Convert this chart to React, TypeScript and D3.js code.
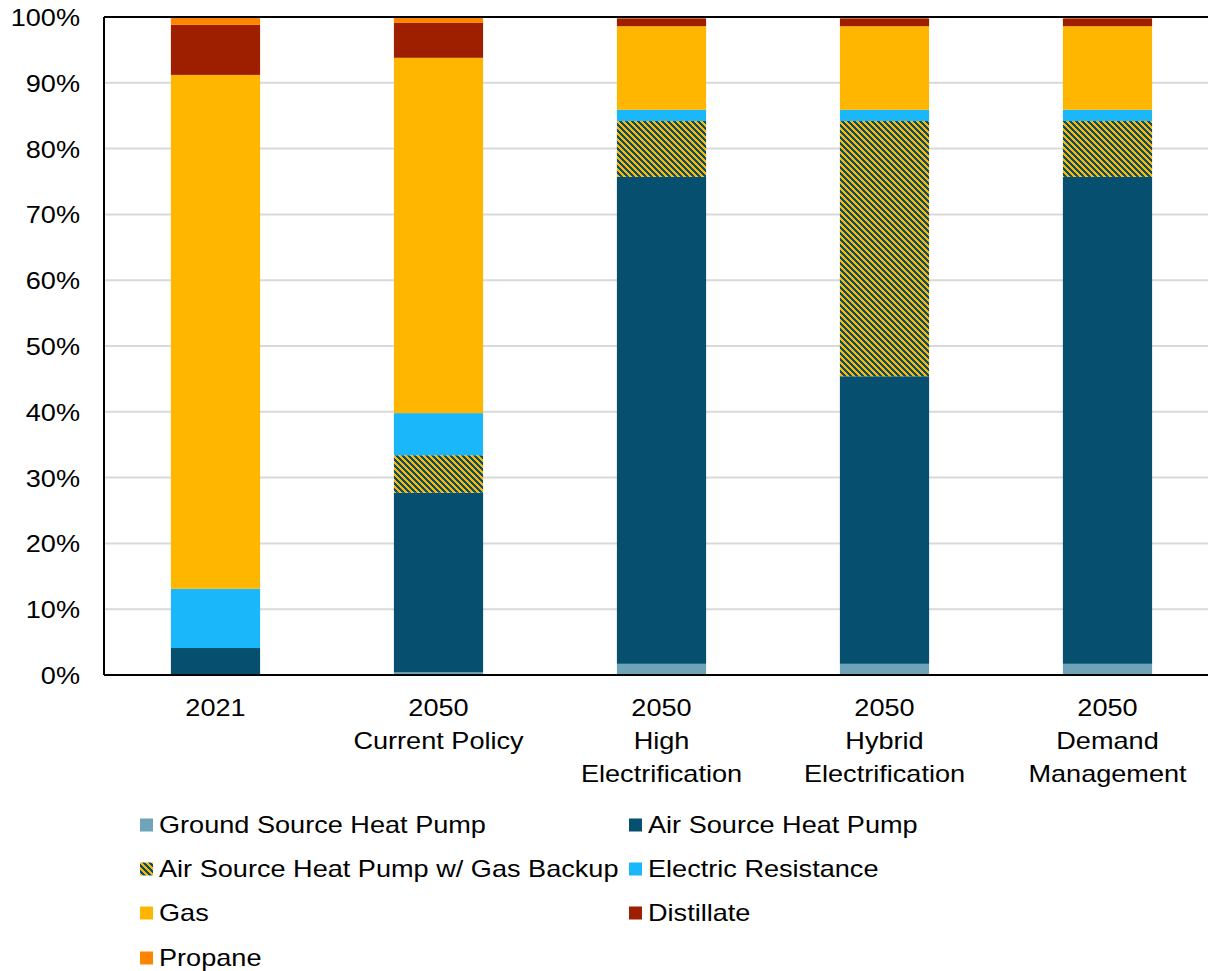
import React from "react";
import * as d3 from "d3";

const categories: string[][] = [
  ["2021"],
  ["2050", "Current Policy"],
  ["2050", "High", "Electrification"],
  ["2050", "Hybrid", "Electrification"],
  ["2050", "Demand", "Management"],
];

const seriesNames = [
  "Ground Source Heat Pump",
  "Air Source Heat Pump",
  "Air Source Heat Pump w/ Gas Backup",
  "Electric Resistance",
  "Gas",
  "Distillate",
  "Propane",
];

// shares in percent, one entry per category
const groundSource = [0.0, 0.4, 1.7, 1.7, 1.7];
const airSource = [4.1, 27.3, 74.0, 43.7, 74.0];
const airSourceGasBackup = [0.0, 5.7, 8.5, 38.8, 8.5];
const electricResistance = [9.0, 6.4, 1.7, 1.7, 1.7];
const gas = [78.1, 54.0, 12.7, 12.7, 12.7];
const distillate = [7.6, 5.3, 1.2, 1.2, 1.2];
const propane = [1.2, 0.9, 0.2, 0.2, 0.2];

const seriesValues = [
  groundSource,
  airSource,
  airSourceGasBackup,
  electricResistance,
  gas,
  distillate,
  propane,
];

const colors = [
  "#6fa3b8",
  "#064f6e",
  "url(#hatch)",
  "#1ab7fb",
  "#ffb600",
  "#9e1f00",
  "#ff8500",
];

const yTicks = [0, 10, 20, 30, 40, 50, 60, 70, 80, 90, 100];

const W = 1208;
const H = 971;
const plot = { left: 104, right: 1219, top: 17, bottom: 675 };
const FONT = "Liberation Sans, Arial, sans-serif";
const SX = 1.13;

// pixel-stepped diagonal hatch tile
const HATCH = 6;
const hatchCells = d3.range(HATCH).flatMap((r) =>
  d3.range(3).map((c) => ({ r, c: (r + c) % HATCH }))
);

function SText({ x, y, anchor, children }: { x: number; y: number; anchor: string; children: React.ReactNode }) {
  return (
    <text
      transform={`translate(${x},${y}) scale(${SX},1)`}
      textAnchor={anchor}
      fontFamily={FONT}
      fontSize={24}
      fill="#000"
    >
      {children}
    </text>
  );
}

export default function App() {
  const x = d3
    .scaleBand<number>()
    .domain(d3.range(categories.length))
    .range([plot.left, plot.right])
    .paddingInner(0.6)
    .paddingOuter(0.3);
  const y = d3.scaleLinear().domain([0, 100]).range([plot.bottom, plot.top]);

  const rows = categories.map((_, i) => {
    const r: Record<string, number> = {};
    seriesNames.forEach((s, k) => (r[s] = seriesValues[k][i]));
    return r;
  });
  const stacked = d3.stack<Record<string, number>>().keys(seriesNames)(rows);

  const legendCols = [140, 629];
  const legendRows = [825, 869, 913, 958];

  return (
    <svg
      width={W}
      height={H}
      style={{ position: "absolute", left: 0, top: 0, background: "#fff" }}
    >
      <defs>
        <pattern id="hatch" width={HATCH} height={HATCH} patternUnits="userSpaceOnUse">
          <rect width={HATCH} height={HATCH} fill="#ffb600" />
          {hatchCells.map(({ r, c }) => (
            <rect key={`${r}-${c}`} x={c} y={r} width={1} height={1} fill="#064f6e" shapeRendering="crispEdges" />
          ))}
        </pattern>
      </defs>

      {yTicks.map((t) => (
        <line
          key={t}
          x1={plot.left}
          x2={plot.right}
          y1={y(t)}
          y2={y(t)}
          stroke="#d9d9d9"
          strokeWidth={2}
        />
      ))}

      {stacked.map((layer, k) =>
        layer.map((d, i) => {
          const h = y(d[0]) - y(d[1]);
          if (h <= 0) return null;
          return (
            <rect
              key={`${k}-${i}`}
              x={x(i)}
              width={x.bandwidth()}
              y={y(d[1])}
              height={h}
              fill={colors[k]}
            />
          );
        })
      )}

      <line x1={plot.left} x2={plot.right} y1={plot.top} y2={plot.top} stroke="#000" strokeWidth={2} />
      <line x1={plot.left} x2={plot.right} y1={plot.bottom} y2={plot.bottom} stroke="#000" strokeWidth={2} />
      <line x1={plot.left} x2={plot.left} y1={plot.top} y2={plot.bottom} stroke="#000" strokeWidth={2} />

      {yTicks.map((t) => (
        <SText key={t} x={80} y={y(t) + 9} anchor="end">
          {`${t}%`}
        </SText>
      ))}

      {categories.map((lines, i) =>
        lines.map((ln, j) => (
          <SText key={`${i}-${j}`} x={x(i)! + x.bandwidth() / 2} y={716 + j * 33} anchor="middle">
            {ln}
          </SText>
        ))
      )}

      {seriesNames.map((s, k) => {
        const cx = legendCols[k % 2];
        const cy = legendRows[Math.floor(k / 2)];
        return (
          <g key={s}>
            <rect x={cx} y={cy - 6.5} width={13} height={13} fill={colors[k]} />
            <SText x={cx + 19} y={cy + 8} anchor="start">
              {s}
            </SText>
          </g>
        );
      })}
    </svg>
  );
}
